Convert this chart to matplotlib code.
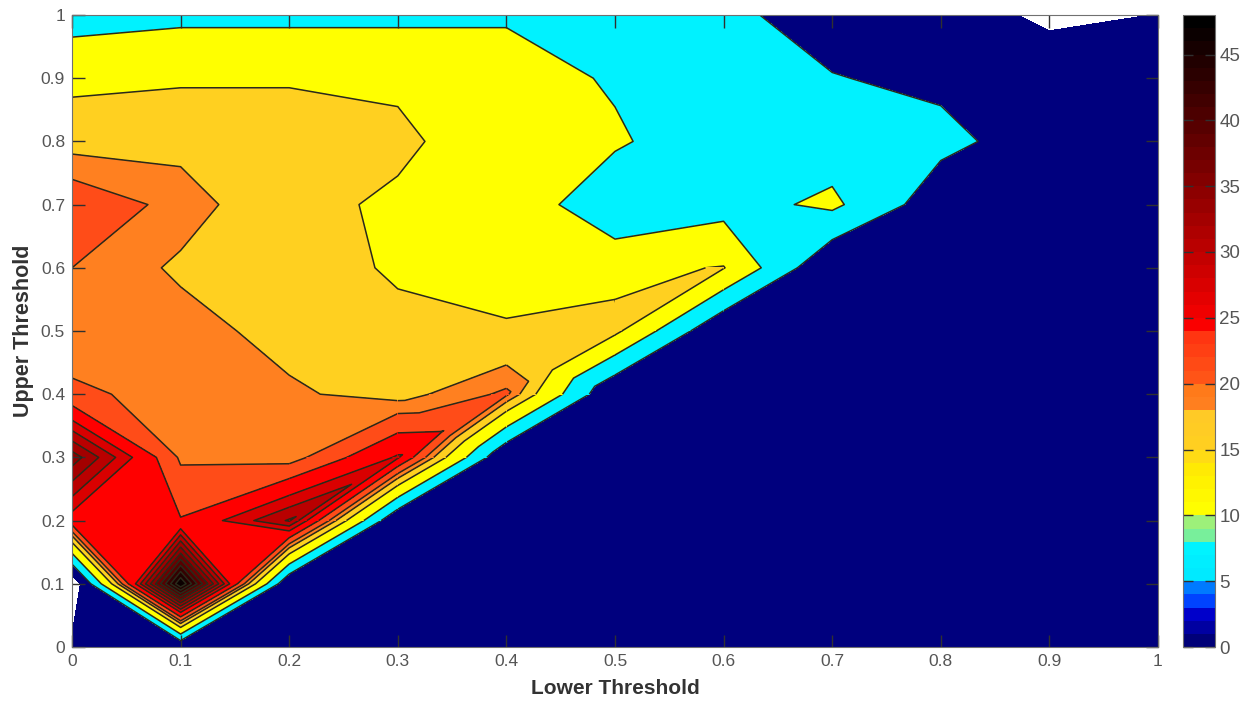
import numpy as np
import matplotlib
matplotlib.use("Agg")
import matplotlib.pyplot as plt
import matplotlib.tri as mtri
from matplotlib.colors import LinearSegmentedColormap, Normalize
from matplotlib.cm import ScalarMappable

plt.rcParams['font.family'] = ['Liberation Sans', 'DejaVu Sans']

lower_threshold = [0, 0.1, 0.2, 0.3, 0.4, 0.5, 0.6, 0.7, 0.8, 0.9, 1]
upper_threshold = [0, 0.1, 0.2, 0.3, 0.4, 0.5, 0.6, 0.7, 0.8, 0.9, 1]
tick_names = ['0', '0.1', '0.2', '0.3', '0.4', '0.5', '0.6', '0.7', '0.8', '0.9', '1']

# one row per upper threshold, bottom row first
row_00 = [1.0, 0.2, 0.2, 0.2, 0.2, 0.2, 0.2, 0.2, 0.2, 0.2, 0.2]
row_01 = [-4.0, 48.0, 0.2, 0.2, 0.2, 0.2, 0.2, 0.2, 0.2, 0.2, 0.2]
row_02 = [25.0, 23.2, 31.5, 0.2, 0.2, 0.2, 0.2, 0.2, 0.2, 0.2, 0.2]
row_03 = [35.0, 19.56, 18.72, 26.8, 0.2, 0.2, 0.2, 0.2, 0.2, 0.2, 0.2]
row_04 = [20.4, 19.3, 18.4, 17.0, 20.5, 0.2, 0.2, 0.2, 0.2, 0.2, 0.2]
row_05 = [18.84, 19.0, 17.07, 15.8, 15.1, 16.0, 0.2, 0.2, 0.2, 0.2, 0.2]
row_06 = [20.0, 17.57, 16.5, 14.6, 14.6, 14.0, 15.2, 0.2, 0.2, 0.2, 0.2]
row_07 = [22.0, 19.14, 15.9, 14.5, 14.5, 5.2, 8.14, 11.0, 2.0, 0.2, 0.2]
row_08 = [17.0, 17.24, 16.8, 15.6, 13.2, 10.9, 5.5, 7.5, 6.3, 2.5, 0.2]
row_09 = [14.14, 14.6, 14.68, 14.51, 13.0, 9.25, 6.5, 5.2, 4.0, 0.75, 0.6]
row_10 = [7.77, 8.85, 8.83, 8.87, 9.25, 8.0, 6.0, 3.0, 0.6, -0.25, 0.02]
score = np.array([row_00, row_01, row_02, row_03, row_04, row_05,
                  row_06, row_07, row_08, row_09, row_10])

# cells on the long diagonal ridge, contourf would cut the ridge in these
ridge_cells = [2, 3, 4, 5]
# some of them get one more reading on the diagonal: cell -> (position, value)
ridge_extra = {3: (0.34, 23.1), 4: (0.44, 15.6)}

levels = [0, 5, 10, 15, 18, 20, 23, 26.4, 28.8, 31.2, 33.6, 36, 38.4, 40.8, 43.2, 45.6, 48]

# colorbar map, value -> colour
bar_stops = [0, 3, 3.01, 4.5, 4.51, 7.5, 7.51, 9.5, 10, 13, 15, 18, 18.01, 20, 20.01, 24, 24.01, 48]
bar_cols = ['#000078', '#0000f0', '#0040ff', '#0090ff', '#00e8ff', '#00f4ff', '#60eeb0', '#a8f070',
            '#ffff00', '#ffee00', '#ffd020', '#ffc828', '#ff8020', '#ff7818', '#ff5818', '#ff3010',
            '#ff0000', '#000000']
bar_map = LinearSegmentedColormap.from_list('bar', [(s / 48, c) for s, c in zip(bar_stops, bar_cols)], N=48)

fill_cols = ['#00007e', '#00f2ff', '#ffff00', '#ffd020', '#ff8020', '#ff4c18', '#ff0000']
for lo, hi in zip(levels[7:-1], levels[8:]):
    fill_cols.append(bar_map((lo + hi) / 2 / 48))
line_col = '#2a2a1a'

fig = plt.figure(figsize=(12.48, 7.02), dpi=100)
ax = fig.add_axes([72 / 1248, 1 - 647 / 702, 1086 / 1248, 632 / 702])
cax = fig.add_axes([1183 / 1248, 1 - 647 / 702, 32 / 1248, 632 / 702])

ax.contourf(lower_threshold, upper_threshold, score, levels=levels, colors=fill_cols, zorder=1)
ax.contour(lower_threshold, upper_threshold, score, levels=levels[1:-1], colors=line_col,
           linewidths=1.1, zorder=2)

# redraw the ridge cells, split along the diagonal so the wedge stays joined
n_x = len(lower_threshold)
px, py = np.meshgrid(lower_threshold, upper_threshold)
px, py, pz = list(px.ravel()), list(py.ravel()), list(score.ravel())
triangles = []
for i in ridge_cells:
    a, b = i * n_x + i, i * n_x + i + 1
    c, d = (i + 1) * n_x + i + 1, (i + 1) * n_x + i
    if i in ridge_extra:
        m = len(px)
        px.append(ridge_extra[i][0])
        py.append(ridge_extra[i][0])
        pz.append(ridge_extra[i][1])
        triangles += [[a, b, m], [b, c, m], [c, d, m], [d, a, m]]
    else:
        triangles += [[a, b, c], [a, c, d]]
ridge = mtri.Triangulation(px, py, triangles)
ax.tricontourf(ridge, pz, levels=levels, colors=fill_cols, zorder=3)
ax.tricontour(ridge, pz, levels=levels[1:-1], colors=line_col, linewidths=1.1, zorder=4)

ax.set_xlim(0, 1)
ax.set_ylim(0, 1)
ax.set_xticks(lower_threshold)
ax.set_yticks(upper_threshold)
ax.set_xticklabels(tick_names)
ax.set_yticklabels(tick_names)
ax.tick_params(direction='in', top=True, right=True, length=9, width=1, color='#303030',
               labelsize=12.5, labelcolor='#555555', pad=5)
ax.set_xlabel('Lower Threshold', fontsize=15, fontweight='bold', color='#333333', labelpad=7)
ax.set_ylabel('Upper Threshold', fontsize=15.5, fontweight='bold', color='#333333', labelpad=5)
for s in ax.spines.values():
    s.set_color('#707070')
    s.set_zorder(5)

sm = ScalarMappable(norm=Normalize(0, 48), cmap=bar_map)
cb = fig.colorbar(sm, cax=cax)
cb.set_ticks([0, 5, 10, 15, 20, 25, 30, 35, 40, 45])
cax.tick_params(direction='in', left=True, right=True, length=7, width=1, color='#303030',
                labelsize=13.5, labelcolor='#555555', pad=3)
cb.outline.set_edgecolor('#707070')

fig.savefig('out.png', dpi=100)
